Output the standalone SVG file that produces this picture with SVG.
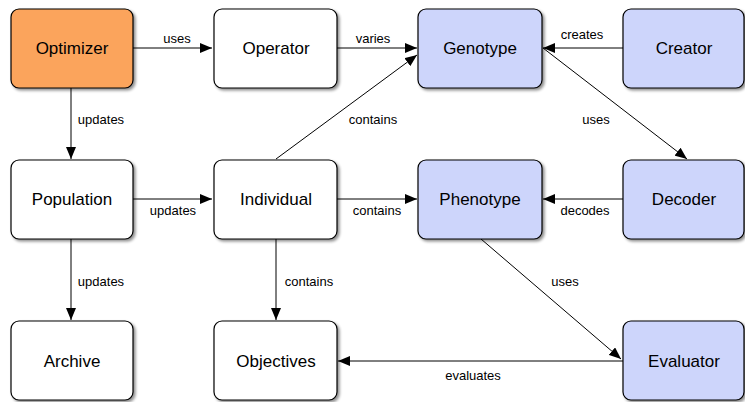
<svg xmlns="http://www.w3.org/2000/svg" width="745" height="402" viewBox="0 0 745 402">
  <defs>
    <filter id="shadow" x="-10%" y="-10%" width="130%" height="130%">
      <feGaussianBlur in="SourceAlpha" stdDeviation="1.5"/>
      <feOffset dx="1.5" dy="2" result="b"/>
      <feComponentTransfer><feFuncA type="linear" slope="0.45"/></feComponentTransfer>
      <feMerge><feMergeNode/><feMergeNode in="SourceGraphic"/></feMerge>
    </filter>
    <marker id="arrow" viewBox="0 0 12 10" refX="12" refY="5" markerWidth="12" markerHeight="10" markerUnits="userSpaceOnUse" orient="auto">
      <path d="M0,0 L12,5 L0,10 Z" fill="#000"/>
    </marker>
    <style>
      .box { stroke: #000; stroke-width: 1.2; filter: url(#shadow); }
      .plain { fill: #fff; }
      .opt { fill: #FBA45C; }
      .rep { fill: #CDD5FB; }
      .name { font-family: "Liberation Sans", Arial, sans-serif; font-size: 17px; fill: #000; text-anchor: middle; }
      .edge { stroke: #000; stroke-width: 1; fill: none; marker-end: url(#arrow); }
      .lbl { font-family: "Liberation Sans", Arial, sans-serif; font-size: 13px; fill: #000; text-anchor: middle; }
    </style>
  </defs>

  <g id="connectors">
    <line class="edge" x1="133" y1="48" x2="212" y2="48"/>
    <text class="lbl" x="177" y="43">uses</text>
    <line class="edge" x1="337" y1="48" x2="417" y2="48"/>
    <text class="lbl" x="373" y="43">varies</text>
    <line class="edge" x1="623" y1="48" x2="543" y2="48"/>
    <text class="lbl" x="582" y="39">creates</text>
    <line class="edge" x1="543" y1="48" x2="687" y2="159"/>
    <text class="lbl" x="596" y="124">uses</text>
    <line class="edge" x1="276" y1="159" x2="417" y2="55"/>
    <text class="lbl" x="373" y="124">contains</text>
    <line class="edge" x1="71" y1="88" x2="71" y2="159"/>
    <text class="lbl" x="101" y="124">updates</text>
    <line class="edge" x1="133" y1="199" x2="212" y2="199"/>
    <text class="lbl" x="173" y="215">updates</text>
    <line class="edge" x1="337" y1="199" x2="417" y2="199"/>
    <text class="lbl" x="377" y="215">contains</text>
    <line class="edge" x1="623" y1="199" x2="543" y2="199"/>
    <text class="lbl" x="585" y="215">decodes</text>
    <line class="edge" x1="71" y1="239" x2="71" y2="320"/>
    <text class="lbl" x="101" y="286">updates</text>
    <line class="edge" x1="276" y1="239" x2="276" y2="320"/>
    <text class="lbl" x="309" y="286">contains</text>
    <line class="edge" x1="481" y1="239" x2="621" y2="359"/>
    <text class="lbl" x="565" y="286">uses</text>
    <line class="edge" x1="623" y1="361" x2="338" y2="361"/>
    <text class="lbl" x="473" y="380">evaluates</text>
  </g>

  <g id="optimizer"><rect class="box opt" x="11" y="9" width="122" height="79" rx="8"/><text class="name" x="72" y="54">Optimizer</text></g>
  <g id="operator"><rect class="box plain" x="214" y="9" width="123" height="79" rx="8"/><text class="name" x="276" y="54">Operator</text></g>
  <g id="genotype"><rect class="box rep" x="418" y="9" width="124" height="79" rx="8"/><text class="name" x="480" y="54">Genotype</text></g>
  <g id="creator"><rect class="box rep" x="623" y="9" width="121" height="79" rx="8"/><text class="name" x="684" y="54">Creator</text></g>
  <g id="population"><rect class="box plain" x="11" y="160" width="122" height="79" rx="8"/><text class="name" x="72" y="205">Population</text></g>
  <g id="individual"><rect class="box plain" x="214" y="160" width="123" height="79" rx="8"/><text class="name" x="276" y="205">Individual</text></g>
  <g id="phenotype"><rect class="box rep" x="418" y="160" width="124" height="79" rx="8"/><text class="name" x="480" y="205">Phenotype</text></g>
  <g id="decoder"><rect class="box rep" x="623" y="160" width="121" height="79" rx="8"/><text class="name" x="684" y="205">Decoder</text></g>
  <g id="archive"><rect class="box plain" x="11" y="321" width="122" height="79" rx="8"/><text class="name" x="72" y="367">Archive</text></g>
  <g id="objectives"><rect class="box plain" x="214" y="321" width="123" height="79" rx="8"/><text class="name" x="276" y="367">Objectives</text></g>
  <g id="evaluator"><rect class="box rep" x="623" y="321" width="121" height="79" rx="8"/><text class="name" x="684" y="367">Evaluator</text></g>
</svg>
